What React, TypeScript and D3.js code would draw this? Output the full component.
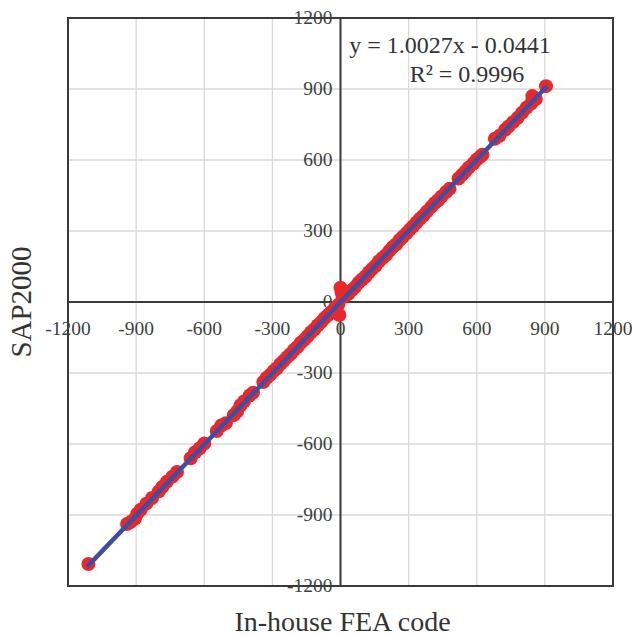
import React, { useEffect, useRef } from 'react';
import * as d3 from 'd3';

// In-house FEA code (x) vs SAP2000 (y)
const feaValues = [
  -1110, -940, -925, -905, -895, -880, -855, -830, -800, -785, -765, -740, -720,
  -660, -640, -620, -600, -545, -525, -505, -470, -455, -440, -425, -400, -385,
  -340, -325, -310, -295, -280, -265, -250, -235, -220, -205, -190, -175, -160,
  -145, -130, -115, -100, -85, -70, -55, -40, -25, -10, 0, 5, -5, 10, 20, 35,
  50, 65, 80, 95, 110, 125, 140, 155, 170, 185, 200, 215, 230, 245, 260, 275,
  290, 305, 320, 335, 350, 365, 380, 400, 415, 430, 445, 465, 480, 520, 535,
  550, 565, 585, 600, 615, 625, 680, 700, 725, 740, 760, 780, 800, 820, 840,
  845, 860, 905,
];
const sapValues = [
  -1107, -938, -930, -915, -895, -878, -852, -828, -800, -782, -760, -738, -718,
  -660, -635, -618, -598, -545, -522, -512, -478, -462, -436, -420, -395, -383,
  -338, -320, -308, -292, -280, -262, -248, -233, -220, -203, -190, -172, -160,
  -145, -128, -115, -98, -85, -68, -55, -42, -25, -12, 60, 40, -55, 20, 25, 35,
  50, 64, 82, 95, 108, 126, 140, 153, 172, 186, 198, 216, 232, 244, 262, 276,
  290, 306, 320, 336, 352, 365, 382, 402, 418, 430, 446, 465, 478, 522, 537,
  552, 568, 585, 602, 614, 622, 690, 702, 728, 742, 760, 778, 800, 822, 840,
  870, 858, 912,
];
const tickValues = [-1200, -900, -600, -300, 0, 300, 600, 900, 1200];
const slope = 1.0027;
const intercept = -0.0441;
const equationLabel = 'y = 1.0027x - 0.0441';
const r2Label = 'R² = 0.9996';

const App = () => {
  const svgRef = useRef<SVGSVGElement>(null);

  useEffect(() => {
    const width = 632;
    const height = 636;
    const m = { left: 68, right: 19, top: 18, bottom: 50 };
    const font = '"Liberation Serif", "DejaVu Serif", serif';

    const svg = d3.select(svgRef.current)
      .attr('width', width)
      .attr('height', height);
    svg.selectAll('*').remove();

    const x = d3.scaleLinear().domain([-1200, 1200]).range([m.left, width - m.right]);
    const y = d3.scaleLinear().domain([-1200, 1200]).range([height - m.bottom, m.top]);

    // gridlines
    const grid = svg.append('g').attr('stroke', '#d9d9d9').attr('stroke-width', 1.3);
    tickValues.forEach(t => {
      grid.append('line')
        .attr('x1', x(t)).attr('x2', x(t))
        .attr('y1', y(-1200)).attr('y2', y(1200));
      grid.append('line')
        .attr('x1', x(-1200)).attr('x2', x(1200))
        .attr('y1', y(t)).attr('y2', y(t));
    });

    // border
    svg.append('rect')
      .attr('x', x(-1200)).attr('y', y(1200))
      .attr('width', x(1200) - x(-1200)).attr('height', y(-1200) - y(1200))
      .attr('fill', 'none').attr('stroke', '#3a3a3a').attr('stroke-width', 2);

    // axis lines through origin
    svg.append('line')
      .attr('x1', x(-1200)).attr('x2', x(1200))
      .attr('y1', y(0)).attr('y2', y(0))
      .attr('stroke', '#3a3a3a').attr('stroke-width', 2);
    svg.append('line')
      .attr('x1', x(0)).attr('x2', x(0))
      .attr('y1', y(-1200)).attr('y2', y(1200))
      .attr('stroke', '#3a3a3a').attr('stroke-width', 2);

    // tick labels
    svg.append('g').selectAll('text')
      .data(tickValues)
      .enter()
      .append('text')
      .attr('x', d => x(d))
      .attr('y', y(0) + 33)
      .attr('text-anchor', 'middle')
      .attr('font-family', font)
      .attr('font-size', 19.5)
      .attr('fill', '#404040')
      .text(d => d);

    svg.append('g').selectAll('text')
      .data(tickValues)
      .enter()
      .append('text')
      .attr('x', x(0) - 8)
      .attr('y', d => y(d) + 6)
      .attr('text-anchor', 'end')
      .attr('font-family', font)
      .attr('font-size', 19.5)
      .attr('fill', '#404040')
      .text(d => d);

    // data points
    const points = feaValues.map((v, i) => [v, sapValues[i]]);
    svg.append('g').selectAll('circle')
      .data(points)
      .enter()
      .append('circle')
      .attr('cx', d => x(d[0]))
      .attr('cy', d => y(d[1]))
      .attr('r', 7)
      .attr('fill', '#e8282b');

    // trendline
    const xExt = d3.extent(feaValues) as [number, number];
    svg.append('line')
      .attr('x1', x(xExt[0])).attr('y1', y(slope * xExt[0] + intercept))
      .attr('x2', x(xExt[1])).attr('y2', y(slope * xExt[1] + intercept))
      .attr('stroke', '#3f4ea3').attr('stroke-width', 4.5)
      .attr('stroke-linecap', 'round');

    // equation
    svg.append('text')
      .attr('x', 450).attr('y', 53)
      .attr('text-anchor', 'middle')
      .attr('font-family', font).attr('font-size', 24)
      .attr('fill', '#333')
      .text(equationLabel);
    svg.append('text')
      .attr('x', 467).attr('y', 82)
      .attr('text-anchor', 'middle')
      .attr('font-family', font).attr('font-size', 24)
      .attr('fill', '#333')
      .text(r2Label);

    // axis titles
    svg.append('text')
      .attr('x', x(0) + 2).attr('y', 631)
      .attr('text-anchor', 'middle')
      .attr('font-family', font).attr('font-size', 28)
      .attr('fill', '#333')
      .text('In-house FEA code');
    svg.append('text')
      .attr('transform', `translate(31,${y(0)}) rotate(-90)`)
      .attr('text-anchor', 'middle')
      .attr('font-family', font).attr('font-size', 29)
      .attr('fill', '#333')
      .text('SAP2000');
  }, []);

  return <svg ref={svgRef} style={{ position: 'absolute', left: 0, top: 0 }}></svg>;
};

export default App;
